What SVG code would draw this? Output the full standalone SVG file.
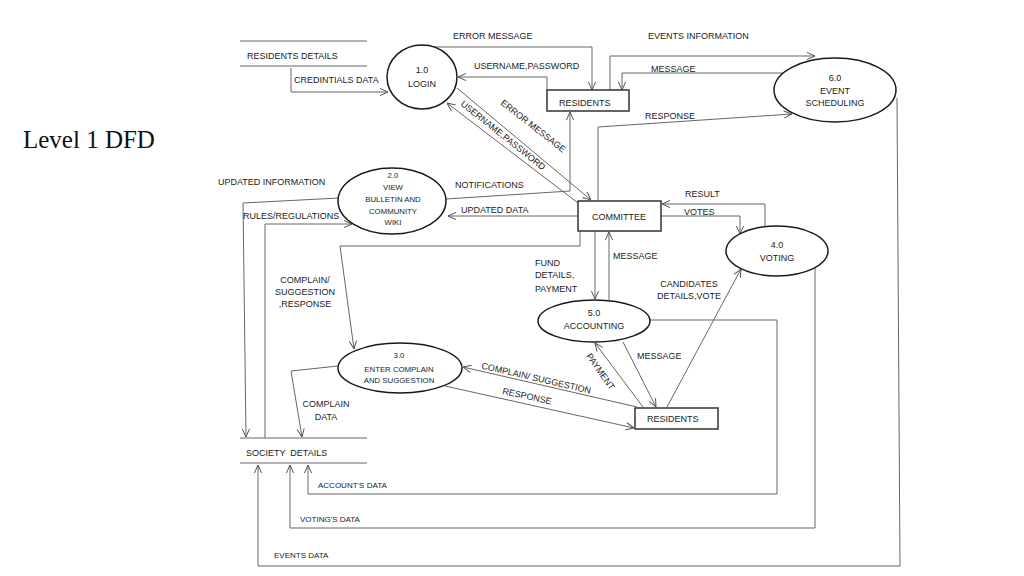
<svg xmlns="http://www.w3.org/2000/svg" width="1024" height="576" viewBox="0 0 1024 576">
<style>
text{font-family:"Liberation Sans",Arial,sans-serif;font-size:9px;fill:#222}
.t{font-family:"Liberation Serif","Times New Roman",serif;font-size:25px;fill:#111}
.s{font-size:7.8px}
.m{font-size:8px}
.c{text-anchor:middle}
.e{fill:#fff;stroke:#1a1a1a;stroke-width:1.5}
.b{fill:#fff;stroke:#333;stroke-width:1.5}
.ds{stroke:#666;stroke-width:1;fill:none}
#conn path{fill:none;stroke:#666;stroke-width:1}
#conn path.a{marker-end:url(#ar)}
</style>
<defs>
<marker id="ar" viewBox="0 0 10 10" refX="10" refY="5" markerWidth="9" markerHeight="9" markerUnits="userSpaceOnUse" orient="auto">
<path d="M1,1 L10,5 L1,9" fill="none" stroke="#555" stroke-width="1.1"/>
</marker>
</defs>
<rect width="1024" height="576" fill="#fff"/>
<text class="t" x="23" y="148">Level 1 DFD</text>

<g id="conn">
<path class="a" d="M291,68 V92 H388"/>
<path class="a" d="M424,47 H592 V90"/>
<path class="a" d="M547,90 V77 H458"/>
<path class="a" d="M610,90 V56 H815"/>
<path class="a" d="M783,73 H622 V90"/>
<path class="a" d="M598,200 V127 L792,114"/>
<path class="a" d="M897,98 L900,566 H258 V465"/>
<path class="a" d="M446,199 L570,191 V112"/>
<path class="a" d="M457,88 L591,200"/>
<path class="a" d="M578,203 L447,103"/>
<path class="a" d="M578,216 H448"/>
<path class="a" d="M765,228 V204 H662"/>
<path class="a" d="M661,216 H740 V234"/>
<path class="a" d="M595,231 V299"/>
<path class="a" d="M609,301 V232"/>
<path class="a" d="M580,231 V246 H340 L354,349"/>
<path class="a" d="M338,366 L291,371 L302,437"/>
<path class="a" d="M339,198 L243,203 L246,437"/>
<path class="a" d="M265,438 V224 H352"/>
<path class="a" d="M637,407 L463,367"/>
<path class="a" d="M445,386 L634,428"/>
<path class="a" d="M643,407 L595,343"/>
<path class="a" d="M623,342 L656,407"/>
<path class="a" d="M667,407 L741,269"/>
<path class="a" d="M650,320 H777 V494 H308 V465"/>
<path class="a" d="M815,268 V528 H290 V465"/>
</g>

<g id="labels">
<text x="294" y="83">CREDINTIALS DATA</text>
<text x="453" y="39">ERROR MESSAGE</text>
<text x="474" y="69">USERNAME,PASSWORD</text>
<text x="648" y="39">EVENTS INFORMATION</text>
<text x="651" y="72">MESSAGE</text>
<text x="645" y="119">RESPONSE</text>
<text transform="translate(460,105) rotate(38.5)">USERNAME,PASSWORD</text>
<text transform="translate(500,104) rotate(38)">ERROR MESSAGE</text>
<text x="218" y="185">UPDATED INFORMATION</text>
<text x="243" y="219">RULES/REGULATIONS</text>
<text x="455" y="188">NOTIFICATIONS</text>
<text x="461" y="213">UPDATED DATA</text>
<text x="685" y="197">RESULT</text>
<text x="684" y="215">VOTES</text>
<text class="c" x="305" y="283">COMPLAIN/</text>
<text class="c" x="305" y="295">SUGGESTION</text>
<text class="c" x="305" y="307">,RESPONSE</text>
<text x="535" y="266">FUND</text>
<text x="535" y="278">DETAILS,</text>
<text x="535" y="292">PAYMENT</text>
<text x="613" y="259">MESSAGE</text>
<text class="c" x="689" y="287">CANDIDATES</text>
<text class="c" x="689" y="299">DETAILS,VOTE</text>
<text x="637" y="359">MESSAGE</text>
<text transform="translate(481,368.5) rotate(13)">COMPLAIN/ SUGGESTION</text>
<text transform="translate(502,394) rotate(12)">RESPONSE</text>
<text transform="translate(586,356) rotate(55)">PAYMENT</text>
<text class="c" x="326" y="407">COMPLAIN</text>
<text class="c" x="326" y="420">DATA</text>
<text class="m" x="318" y="488">ACCOUNT'S DATA</text>
<text class="m" x="300" y="522">VOTING'S DATA</text>
<text class="m" x="274" y="558">EVENTS DATA</text>
</g>

<g id="ds-residents">
<path class="ds" d="M240,41 H367 M240,66 H367"/>
<text x="247" y="59">RESIDENTS DETAILS</text>
</g>
<g id="ds-society">
<path class="ds" d="M240,438 H367 M240,463 H367"/>
<text x="246" y="456" xml:space="preserve">SOCIETY  DETAILS</text>
</g>

<g id="p1">
<ellipse class="e" cx="422" cy="77" rx="35" ry="32"/>
<text class="c" x="422" y="73">1.0</text>
<text class="c" x="422" y="87">LOGIN</text>
</g>
<g id="residents-top">
<rect class="b" x="547" y="90" width="82" height="21"/>
<text x="559" y="106">RESIDENTS</text>
</g>
<g id="p6">
<ellipse class="e" cx="835" cy="90" rx="61" ry="32"/>
<text class="c" x="835" y="81">6.0</text>
<text class="c" x="835" y="94">EVENT</text>
<text class="c" x="835" y="106">SCHEDULING</text>
</g>
<g id="p2">
<ellipse class="e" cx="392" cy="201" rx="54" ry="33"/>
<text class="c s" x="393" y="178">2.0</text>
<text class="c s" x="393" y="190">VIEW</text>
<text class="c s" x="393" y="202">BULLETIN AND</text>
<text class="c s" x="393" y="214">COMMUNITY</text>
<text class="c s" x="393" y="225">WIKI</text>
</g>
<g id="committee">
<rect class="b" x="578" y="201" width="83" height="30"/>
<text class="c" x="619" y="220">COMMITTEE</text>
</g>
<g id="p4">
<ellipse class="e" cx="777" cy="251" rx="51" ry="25"/>
<text class="c" x="777" y="248">4.0</text>
<text class="c" x="777" y="261">VOTING</text>
</g>
<g id="p5">
<ellipse class="e" cx="594" cy="321" rx="56" ry="21"/>
<text class="c" x="594" y="316">5.0</text>
<text class="c" x="594" y="329">ACCOUNTING</text>
</g>
<g id="p3">
<ellipse class="e" cx="400" cy="368" rx="62" ry="25"/>
<text class="c s" x="399" y="358">3.0</text>
<text class="c s" x="399" y="372">ENTER COMPLAIN</text>
<text class="c s" x="399" y="383">AND SUGGESTION</text>
</g>
<g id="residents-bottom">
<rect class="b" x="635" y="408" width="83" height="21"/>
<text x="647" y="422">RESIDENTS</text>
</g>
</svg>
